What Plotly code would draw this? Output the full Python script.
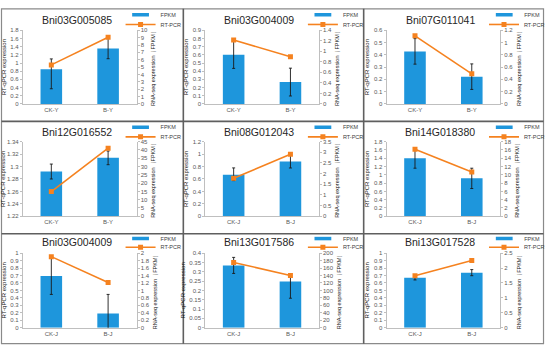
import plotly.graph_objects as go

# ---------------- data ----------------
genes = ["Bni03G005085", "Bni03G004009", "Bni07G011041",
         "Bni12G016552", "Bni08G012043", "Bni14G018380",
         "Bni03G004009", "Bni13G017586", "Bni13G017528"]

cats_Y = ["CK-Y", "B-Y"]
cats_J = ["CK-J", "B-J"]
categories = [cats_Y, cats_Y, cats_Y, cats_Y, cats_J, cats_J, cats_J, cats_J, cats_J]

# bars (left axis: RT-qPCR expression)
qpcr = [[0.845, 1.355], [0.600, 0.267], [0.428, 0.222],
        [1.292, 1.314], [0.668, 0.882], [1.400, 0.915],
        [0.693, 0.190], [0.334, 0.248], [0.671, 0.736]]
qpcr_err_plus = [[0.255, 0.250], [0.170, 0.170], [0.104, 0.104],
                 [0.012, 0.011], [0.110, 0.100], [0.240, 0.245],
                 [0.247, 0.256], [0.043, 0.040], [0.035, 0.043]]
qpcr_err_minus = [[0.475, 0.250], [0.166, 0.170], [0.104, 0.104],
                  [0.012, 0.011], [0.094, 0.105], [0.240, 0.245],
                  [0.247, 0.256], [0.043, 0.090], [0.031, 0.039]]

# line (right axis: RNA-seq FPKM)
rnaseq = [[5.30, 9.05], [1.217, 0.895], [1.11, 0.49],
          [14.9, 41.1], [1.78, 2.91], [16.2, 10.7],
          [1.905, 1.21], [175, 140], [1.74, 2.25]]

# axis scales
left_min = [0, 0, 0, 1.22, 0, 0, 0, 0, 0]
left_max = [1.8, 0.9, 0.6, 1.34, 1.2, 1.8, 1.0, 0.4, 1.0]
left_step = [0.2, 0.1, 0.1, 0.02, 0.2, 0.2, 0.1, 0.05, 0.1]
right_max = [10, 1.4, 1.2, 45, 3.5, 18, 2, 200, 2.5]
right_step = [1, 0.2, 0.2, 5, 0.5, 2, 0.2, 20, 0.5]

bar_name = "FPKM"
line_name = "RT-PCR"
left_title = "RT-qPCR expression"
right_title = "RNA-seq expression（FPKM）"

# ---------------- layout geometry ----------------
W, H = 550, 352
col_x0 = [0, 183, 365]
row_top = [23, 138, 253]
row_bot = [99, 215, 330]
row_title_y = [12, 128, 242]
row_leg_y = [(7, 17), (123, 133), (238, 247)]

FONT = "Liberation Sans, Arial, sans-serif"
BLUE = "#1E96DC"
ORANGE = "#F5821F"
AXIS = "#BFBFBF"
TICKC = "#595959"


def ticks(lo, hi, step):
    n = int(round((hi - lo) / step))
    vals = [round(lo + k * step, 6) for k in range(n + 1)]
    return vals, ["{:g}".format(v) for v in vals]


fig = go.Figure()
layout = dict(
    width=W, height=H, margin=dict(l=0, r=0, t=0, b=0),
    paper_bgcolor="white", plot_bgcolor="rgba(0,0,0,0)",
    showlegend=True, font=dict(family=FONT, size=6, color=TICKC),
    annotations=[], shapes=[],
)

for i in range(9):
    r, c = divmod(i, 3)
    ox = col_x0[c]
    left, right = ox + 23, ox + 137
    top, bot = row_top[r], row_bot[r]
    xn = i + 1
    yl = 2 * i + 1
    yr = 2 * i + 2
    xa, ya, ya2 = f"x{xn}", f"y{yl}", f"y{yr}"
    xkey = "xaxis" if xn == 1 else f"xaxis{xn}"
    ylkey = "yaxis" if yl == 1 else f"yaxis{yl}"
    yrkey = f"yaxis{yr}"
    lg1 = "legend" if yl == 1 else f"legend{yl}"
    lg2 = f"legend{yr}"

    fig.add_trace(go.Bar(
        x=categories[i], y=qpcr[i], width=0.38, name=bar_name,
        marker=dict(color=BLUE, line=dict(width=0)),
        error_y=dict(type="data", symmetric=False, array=qpcr_err_plus[i],
                     arrayminus=qpcr_err_minus[i], color="#1a1a1a",
                     thickness=0.9, width=1.5),
        xaxis=xa, yaxis=ya, legendgroup=f"bar{i}", showlegend=False,
    ))
    # legend key for the bar series (flat Excel-style swatch)
    fig.add_trace(go.Scatter(
        x=[None], y=[None], mode="markers", name=bar_name,
        marker=dict(symbol="line-ew", size=12, color=BLUE,
                    line=dict(color=BLUE, width=3.5)),
        xaxis=xa, yaxis=ya, legend=lg1, legendgroup=f"bar{i}",
        showlegend=True, hoverinfo="skip",
    ))
    fig.add_trace(go.Scatter(
        x=categories[i], y=rnaseq[i], mode="lines+markers", name=line_name,
        line=dict(color=ORANGE, width=1.6),
        marker=dict(symbol="square", size=5, color=ORANGE),
        xaxis=xa, yaxis=ya2, legend=lg2, showlegend=True,
    ))

    lv, lt = ticks(left_min[i], left_max[i], left_step[i])
    rv, rt = ticks(0, right_max[i], right_step[i])

    layout[xkey] = dict(
        domain=[left / W, right / W], anchor=ya, type="category",
        range=[-0.5, 1.5], showline=True, linecolor=AXIS, linewidth=1,
        ticks="", showgrid=False, zeroline=False, fixedrange=True,
        tickfont=dict(size=6, color=TICKC, family=FONT),
    )
    layout[ylkey] = dict(
        domain=[1 - bot / H, 1 - top / H], anchor=xa,
        range=[left_min[i], left_max[i]], tickmode="array",
        tickvals=lv, ticktext=lt, showline=True, linecolor=AXIS, linewidth=1,
        ticks="outside", ticklen=2, tickcolor=AXIS, tickwidth=1,
        showgrid=False, zeroline=False,
        tickfont=dict(size=6, color=TICKC, family=FONT),
        title=dict(text=left_title, standoff=3,
                   font=dict(size=6, color="#1a1a1a", family=FONT)),
    )
    layout[yrkey] = dict(
        overlaying=ya, side="right", anchor=xa,
        range=[0, right_max[i]], tickmode="array",
        tickvals=rv, ticktext=rt, showline=True, linecolor=AXIS, linewidth=1,
        ticks="outside", ticklen=2, tickcolor=AXIS, tickwidth=1,
        showgrid=False, zeroline=False,
        tickfont=dict(size=6, color=TICKC, family=FONT),
        title=dict(text=right_title, standoff=4,
                   font=dict(size=5.5, color="#1a1a1a", family=FONT)),
    )

    ly1, ly2 = row_leg_y[r]
    for key, yy in ((lg1, ly1), (lg2, ly2)):
        layout[key] = dict(
            x=(ox + 121) / W, y=1 - yy / H, xanchor="left", yanchor="middle",
            bgcolor="rgba(0,0,0,0)", borderwidth=0, itemwidth=30,
            font=dict(size=5.5, color="#404040", family=FONT),
        )

    layout["annotations"].append(dict(
        text=genes[i], x=(ox + 77) / W, y=1 - row_title_y[r] / H,
        xref="paper", yref="paper", showarrow=False,
        xanchor="center", yanchor="middle",
        font=dict(size=10.5, color="#262626", family=FONT),
    ))

# panel frame lines
FRAME = "#5f5f5f"
layout["shapes"].append(dict(type="rect", xref="paper", yref="paper",
                             x0=1.5 / W, x1=545.5 / W, y0=1 - 346.5 / H, y1=1 - 0.8 / H,
                             line=dict(color="#8a8a8a", width=1.2)))
for xv in (184, 365):
    layout["shapes"].append(dict(type="line", xref="paper", yref="paper",
                                 x0=xv / W, x1=xv / W, y0=1 - 346.5 / H, y1=1 - 0.8 / H,
                                 line=dict(color=FRAME, width=1.6)))
for yv in (117, 233):
    layout["shapes"].append(dict(type="line", xref="paper", yref="paper",
                                 x0=1.5 / W, x1=545.5 / W, y0=1 - yv / H, y1=1 - yv / H,
                                 line=dict(color=FRAME, width=1.6)))

fig.update_layout(**layout)
fig.write_html("out.html", config={"displayModeBar": False},
               post_script="document.body.style.margin='0';document.body.style.overflow='hidden';")
